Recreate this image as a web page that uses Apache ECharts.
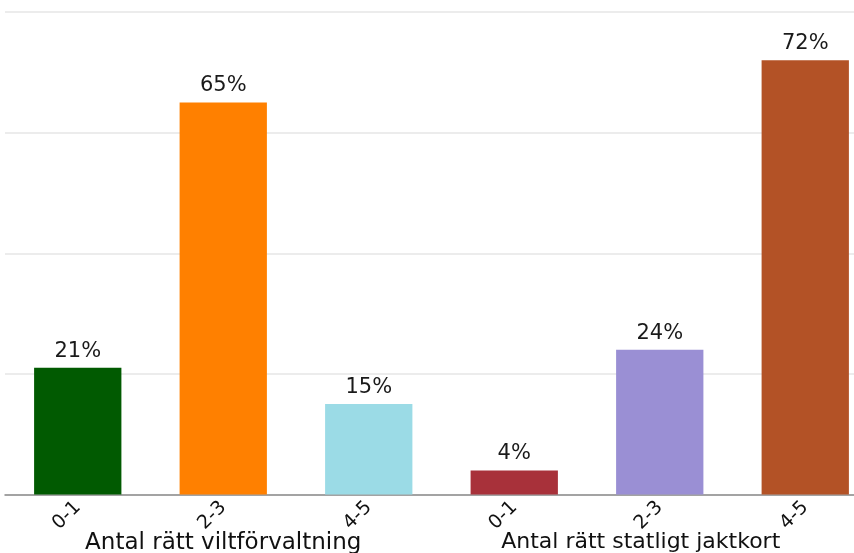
<!DOCTYPE html>
<html>
<head>
<meta charset="utf-8">
<script src="https://cdn.jsdelivr.net/npm/echarts@6/dist/echarts.min.js"></script>
<style>
  html, body { margin: 0; padding: 0; background: #ffffff; }
  #chart { width: 854px; height: 553px; }
</style>
</head>
<body>
<div id="chart"></div>
<script>
const categories = ['0-1', '2-3', '4-5', '0-1 ', '2-3 ', '4-5 '];
const values = [21, 65, 15, 4, 24, 72];
const barColors = ['#015a01', '#ff8000', '#9bdbe6', '#a8313a', '#9a8fd4', '#b35226'];
const groups = ['Antal rätt viltförvaltning', 'Antal rätt statligt jaktkort'];
const yTicks = [0, 20, 40, 60, 80];

const chart = echarts.init(document.getElementById('chart'), null, { renderer: 'canvas' });
chart.setOption({
  animation: false,
  backgroundColor: '#ffffff',
  grid: { left: 5, top: 12, right: -24, bottom: 58.5, containLabel: false, outerBoundsMode: 'none' },
  xAxis: [
    {
      type: 'category',
      data: categories,
      axisLine: { show: true, lineStyle: { color: '#8a8a8a', width: 1.5 } },
      axisTick: { show: false },
      axisLabel: {
        rotate: 45,
        margin: 10,
        interval: 0,
        fontFamily: 'DejaVu Sans',
        fontSize: 19,
        color: '#111',
        formatter: v => v.trim()
      }
    },
    {
      type: 'category',
      position: 'bottom',
      data: groups,
      axisLine: { show: false },
      axisTick: { show: false },
      axisLabel: {
        interval: 0,
        margin: 37,
        fontFamily: 'DejaVu Sans',
        fontSize: 23,
        color: '#111',
        formatter: (v, i) => i === 1 ? '{b|' + v + '}' : '{a|' + v + '}',
        rich: {
          a: { fontFamily: 'DejaVu Sans', fontSize: 23, color: '#111' },
          b: { fontFamily: 'DejaVu Sans', fontSize: 22, color: '#111', padding: [0, 38, 0, 0] }
        }
      }
    }
  ],
  yAxis: {
    type: 'value',
    min: yTicks[0],
    max: yTicks[yTicks.length - 1],
    interval: 20,
    axisLine: { show: false },
    axisTick: { show: false },
    axisLabel: { show: false },
    splitLine: { show: true, lineStyle: { color: '#ececec', width: 2 } }
  },
  series: [{
    type: 'bar',
    xAxisIndex: 0,
    data: values,
    barWidth: '60%',
    itemStyle: { color: p => barColors[p.dataIndex] },
    label: {
      show: true,
      position: 'top',
      distance: 6,
      formatter: p => p.value + '%',
      fontFamily: 'DejaVu Sans',
      fontSize: 21,
      color: '#1a1a1a'
    }
  }]
});
</script>
</body>
</html>
